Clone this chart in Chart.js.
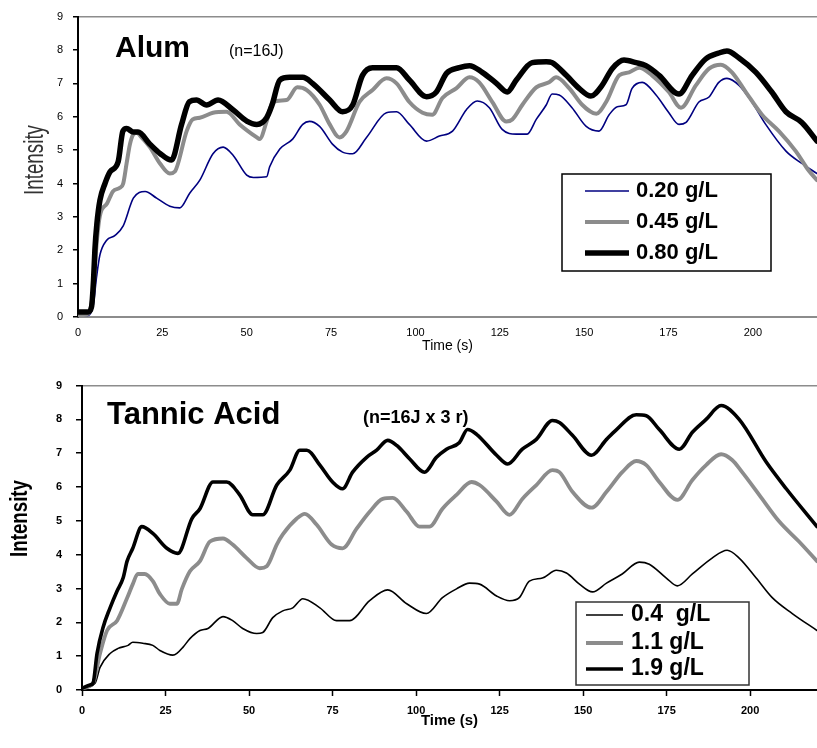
<!DOCTYPE html>
<html><head><meta charset="utf-8">
<script src="https://cdn.jsdelivr.net/npm/chart.js@4.4.1/dist/chart.umd.min.js"></script>
<style>
html,body{margin:0;padding:0;background:#fff;}
#wrap{position:relative;width:817px;height:748px;overflow:hidden;background:#fff;}
.panel{position:absolute;left:0;width:817px;}
</style></head><body>
<div id="wrap">
  <div class="panel" style="top:0;height:365px"><canvas id="c1" width="817" height="365"></canvas></div>
  <div class="panel" style="top:365px;height:383px"><canvas id="c2" width="817" height="383"></canvas></div>
</div>
<script>
// ---------- tick values ----------
const xTickValues = [0, 25, 50, 75, 100, 125, 150, 175, 200];
const yTickValues = [0, 1, 2, 3, 4, 5, 6, 7, 8, 9];

// ---------- Alum panel ----------
const alumLabels = ['0.20 g/L', '0.45 g/L', '0.80 g/L'];
const alumLowT = [0, 3, 4.5, 5.5, 6.5, 8.5, 10.9, 13.4, 16.4, 19.9, 23.3, 27.2, 30.2, 33.1, 36.1, 40, 43, 46, 50, 52, 55.9, 56.8, 59.8, 63.6, 66.6, 68.6, 71.6, 75.4, 78.4, 81.4, 85.5, 91.4, 94.4, 98.2, 103.3, 107.1, 111, 115.1, 118.3, 121.9, 125.7, 129.9, 133.1, 135.8, 138.8, 140.5, 142.6, 146.4, 150.6, 154.4, 157.4, 159.8, 162.4, 164.2, 167.2, 171.3, 175.1, 178.1, 180.2, 184, 187, 189.9, 192.3, 195.9, 199.7, 203.8, 209.8, 214.5, 219];
const alumLowV = [0.05, 0.05, 0.34, 1.2, 1.86, 2.3, 2.44, 2.73, 3.56, 3.76, 3.56, 3.32, 3.27, 3.71, 4.1, 4.89, 5.09, 4.84, 4.25, 4.18, 4.2, 4.5, 5.03, 5.33, 5.77, 5.86, 5.71, 5.18, 4.94, 4.89, 5.38, 6.12, 6.15, 5.77, 5.27, 5.42, 5.57, 6.21, 6.47, 6.27, 5.62, 5.48, 5.48, 5.92, 6.36, 6.68, 6.65, 6.27, 5.71, 5.57, 6.06, 6.3, 6.36, 6.85, 7.03, 6.65, 6.12, 5.77, 5.83, 6.44, 6.59, 7.03, 7.15, 6.94, 6.44, 5.77, 4.97, 4.6, 4.3];
const alumMidT = [0, 3, 4.5, 5.6, 6.5, 8.6, 10.4, 12.4, 13.4, 14.4, 15.4, 16.4, 17.5, 18.5, 21.3, 24.3, 27.2, 28.7, 32.2, 34, 36.1, 40, 44, 47.9, 53, 53.8, 55.9, 57.7, 61.8, 65, 67.8, 71.6, 74.6, 77.5, 79.6, 83.4, 87.3, 91.4, 94.4, 98.2, 102.1, 105, 108, 112.1, 116, 118.9, 122.8, 126.9, 128.7, 131.7, 135.8, 139.6, 141.7, 145.6, 149.4, 153.6, 156.5, 160.4, 163.3, 166.3, 170.1, 175.1, 178.7, 183.1, 187, 190.5, 193.8, 197.9, 202.7, 207.7, 212.7, 216.6, 219];
const alumMidV = [0.05, 0.1, 0.8, 2.3, 3.04, 3.4, 3.77, 3.87, 4.0, 4.6, 5.18, 5.47, 5.52, 5.42, 5.09, 4.6, 4.3, 4.36, 5.57, 5.92, 5.97, 6.12, 6.15, 5.77, 5.38, 5.33, 5.86, 6.44, 6.5, 6.88, 6.8, 6.36, 5.77, 5.38, 5.57, 6.44, 6.8, 7.15, 7.0, 6.44, 6.12, 6.06, 6.56, 6.85, 7.18, 7.03, 6.44, 5.86, 5.92, 6.36, 6.88, 7.03, 7.18, 6.85, 6.36, 6.09, 6.44, 7.24, 7.33, 7.47, 7.24, 6.74, 6.27, 6.94, 7.44, 7.56, 7.33, 6.74, 6.06, 5.57, 4.97, 4.38, 4.1];
const alumHighT = [0, 3, 4, 4.6, 5, 5.6, 6.5, 8, 9.5, 11.9, 13.3, 14.4, 16.4, 17.8, 21.3, 24.3, 27.7, 30.7, 33, 35.1, 38.1, 41.5, 46, 50, 53, 55.9, 57.5, 59.8, 62.7, 66.6, 69.5, 74.6, 78.4, 81.4, 84.3, 87.3, 94.4, 98.2, 103.3, 106.2, 109.2, 113, 116, 119.8, 124, 127.2, 129.9, 134.6, 138.8, 140.5, 144.7, 148.5, 152, 155.3, 158.3, 161.8, 165.4, 168.3, 172.2, 178.1, 182, 186, 189.9, 192.3, 195.9, 200.9, 205.6, 209.8, 214.5, 219];
const alumHighV = [0.15, 0.15, 0.3, 1.1, 2.0, 2.8, 3.5, 4.0, 4.35, 4.65, 5.57, 5.65, 5.54, 5.54, 5.18, 4.9, 4.7, 5.77, 6.45, 6.5, 6.35, 6.5, 6.2, 5.87, 5.77, 5.97, 6.35, 7.1, 7.18, 7.18, 7.0, 6.5, 6.15, 6.35, 7.24, 7.47, 7.47, 7.1, 6.6, 6.74, 7.3, 7.47, 7.53, 7.33, 7.0, 6.74, 7.1, 7.62, 7.65, 7.62, 7.24, 6.85, 6.62, 6.94, 7.44, 7.7, 7.62, 7.53, 7.24, 6.68, 7.24, 7.73, 7.91, 7.97, 7.76, 7.33, 6.74, 6.15, 5.83, 5.27];

// ---------- Tannic acid panel ----------
const tannicLabels = ['0.4  g/L', '1.1 g/L', '1.9 g/L'];
const tannicLowT = [0, 3.9, 5.4, 8.4, 10.8, 13.8, 15.2, 18.2, 21.2, 23.3, 27.2, 28.4, 30.2, 32.3, 35.3, 37.7, 42.2, 45.1, 48.1, 52.3, 54.1, 57.1, 60.1, 63.1, 66.1, 71.2, 76.2, 80.1, 86.1, 91.5, 97.2, 103.1, 107.9, 112.1, 116, 119, 124.1, 128, 130.9, 133.9, 137.8, 142, 145, 148.9, 152.8, 157, 161.7, 166.8, 169.8, 174.9, 178.2, 182.7, 188.6, 193.1, 196.7, 201.8, 206.6, 212.6, 220];
const tannicLowV = [0.05, 0.2, 0.67, 1.08, 1.23, 1.32, 1.41, 1.38, 1.32, 1.17, 1.03, 1.08, 1.26, 1.52, 1.76, 1.82, 2.17, 2.05, 1.82, 1.67, 1.7, 2.14, 2.34, 2.43, 2.7, 2.43, 2.05, 2.05, 2.64, 2.96, 2.55, 2.26, 2.73, 2.99, 3.16, 3.13, 2.78, 2.64, 2.73, 3.22, 3.31, 3.54, 3.46, 3.13, 2.9, 3.16, 3.43, 3.78, 3.72, 3.31, 3.08, 3.43, 3.9, 4.13, 3.9, 3.31, 2.73, 2.26, 1.76];
const tannicMidT = [0, 3.3, 5.4, 7.5, 10.5, 13.5, 15.2, 16.7, 18.8, 21.2, 23.3, 26.3, 28.4, 29.9, 32.3, 35.3, 38.3, 42.2, 45.1, 49.3, 53.2, 55.3, 58.3, 60.1, 64.3, 66.7, 70.2, 74.7, 78, 82.2, 86.1, 90, 93, 97.2, 101, 104, 107.9, 112.1, 116.6, 119, 124.1, 128, 131.8, 136, 140.8, 142.9, 146.8, 152.5, 157, 161.7, 165.9, 168.9, 172.8, 178.2, 182.7, 186.8, 191.3, 194.6, 197.6, 202.7, 208.7, 214.6, 220];
const tannicMidV = [0.05, 0.2, 1.08, 1.76, 2.05, 2.72, 3.13, 3.43, 3.43, 3.22, 2.84, 2.55, 2.55, 2.99, 3.51, 3.81, 4.39, 4.48, 4.3, 3.9, 3.6, 3.66, 4.3, 4.6, 5.07, 5.21, 4.89, 4.3, 4.19, 4.77, 5.27, 5.65, 5.68, 5.27, 4.83, 4.83, 5.36, 5.77, 6.15, 6.06, 5.57, 5.18, 5.65, 6.06, 6.5, 6.44, 5.86, 5.39, 5.86, 6.44, 6.77, 6.65, 6.15, 5.62, 6.21, 6.65, 6.97, 6.8, 6.44, 5.77, 4.98, 4.39, 3.81];
const tannicHighT = [0, 2.4, 3.3, 4.5, 6.3, 8.4, 10.5, 12.3, 13.5, 15.2, 17.9, 21.2, 25.4, 28.7, 32.9, 35.3, 39.2, 43.3, 47.2, 51.1, 54.1, 58.3, 62.2, 65.2, 67.3, 71.2, 75, 78, 81, 85.2, 88.2, 91.5, 94.2, 98.1, 102.5, 106.1, 109.1, 113, 115.4, 118.1, 124.1, 127.4, 131.8, 136, 140.8, 142.9, 146.8, 152.5, 157, 160, 165.9, 168.9, 172.8, 178.8, 182.7, 186.8, 191.3, 196.7, 204.8, 210.8, 220];
const tannicHighV = [0.05, 0.15, 0.2, 1.08, 1.85, 2.43, 2.93, 3.31, 3.81, 4.19, 4.83, 4.63, 4.19, 4.04, 5.07, 5.36, 6.15, 6.15, 5.77, 5.18, 5.18, 6.06, 6.5, 7.09, 7.09, 6.65, 6.15, 5.95, 6.44, 6.88, 7.09, 7.38, 7.23, 6.83, 6.44, 6.88, 7.12, 7.32, 7.7, 7.56, 6.94, 6.68, 7.12, 7.41, 7.97, 7.91, 7.53, 6.94, 7.41, 7.7, 8.14, 8.11, 7.7, 7.12, 7.62, 8.0, 8.41, 8.0, 6.74, 5.95, 4.83];

// ---------- helpers ----------
const FONT = "'Liberation Sans', Arial, sans-serif";
const GRAY = '#8c8c8c';
function pts(t, v) { return t.map((x, i) => ({ x: x, y: v[i] })); }

function decorPlugin(cfg) {
  return {
    id: 'decor',
    afterDatasetsDraw(chart) {
      const ctx = chart.ctx;
      ctx.save();
      // panel titles
      cfg.texts.forEach(t => {
        ctx.font = t.font; ctx.fillStyle = '#000';
        ctx.textAlign = 'left'; ctx.textBaseline = 'alphabetic';
        ctx.fillText(t.text, t.x, t.y);
      });
      // y-axis title (condensed, rotated)
      const yt = cfg.yTitle;
      ctx.save();
      ctx.font = yt.font; ctx.fillStyle = yt.color;
      ctx.textAlign = 'left'; ctx.textBaseline = 'alphabetic';
      const w = ctx.measureText(yt.text).width;
      ctx.translate(yt.x, yt.y); ctx.rotate(-Math.PI / 2); ctx.scale(yt.len / w, 1);
      ctx.fillText(yt.text, 0, 0);
      ctx.restore();
      // legend
      const lg = cfg.legend;
      ctx.fillStyle = '#fff'; ctx.fillRect(lg.x, lg.y, lg.w, lg.h);
      ctx.strokeStyle = lg.border; ctx.lineWidth = 1.5; ctx.strokeRect(lg.x, lg.y, lg.w, lg.h);
      chart.data.datasets.forEach((ds, i) => {
        const y = lg.rowY[i];
        ctx.strokeStyle = ds.borderColor; ctx.lineWidth = ds.borderWidth; ctx.lineCap = 'butt';
        ctx.beginPath(); ctx.moveTo(lg.x0, y); ctx.lineTo(lg.x1, y); ctx.stroke();
        ctx.fillStyle = '#000'; ctx.font = lg.font; ctx.textBaseline = 'middle'; ctx.textAlign = 'left';
        ctx.fillText(ds.label, lg.tx, y);
      });
      ctx.restore();
    }
  };
}

function makeChart(id, p) {
  return new Chart(document.getElementById(id), {
    type: 'line',
    data: { datasets: p.datasets },
    options: {
      responsive: false, animation: false, events: [],
      layout: { padding: { top: p.padTop, left: 0, right: 0, bottom: 0 } },
      elements: { point: { radius: 0 }, line: { cubicInterpolationMode: 'monotone', borderCapStyle: 'round', borderJoinStyle: 'round' } },
      plugins: { legend: { display: false }, tooltip: { enabled: false } },
      scales: {
        x: {
          type: 'linear', min: 0, max: p.xMax,
          afterBuildTicks: s => { s.ticks = xTickValues.map(v => ({ value: v })); },
          afterFit: s => { s.height = p.xHeight; },
          ticks: { font: { family: FONT, size: 11, weight: p.tickWeight }, color: '#000', padding: p.xTickPad, maxRotation: 0, autoSkip: false },
          grid: { drawOnChartArea: false, drawTicks: p.xDrawTicks, tickLength: 6, tickWidth: 1.5, tickColor: '#000', color: 'rgba(0,0,0,0)' },
          border: { color: p.xBorder, width: 2 },
          title: { display: true, text: 'Time (s)', color: '#000', font: { family: FONT, size: p.xTitleSize, weight: p.tickWeight }, padding: { top: 0, bottom: p.xTitlePad } }
        },
        y: {
          min: 0, max: 9,
          afterBuildTicks: s => { s.ticks = yTickValues.map(v => ({ value: v })); },
          afterFit: s => { s.width = p.yWidth; },
          ticks: { font: { family: FONT, size: 11, weight: p.tickWeight }, color: '#000', padding: p.yTickPad },
          grid: {
            drawOnChartArea: true, drawTicks: true, tickLength: p.yTickLen, tickWidth: 1.5, tickColor: '#000',
            color: c => (c.tick && c.tick.value === 9) ? GRAY : 'rgba(0,0,0,0)', lineWidth: 1.5
          },
          border: { color: '#000', width: 2 }
        }
      }
    },
    plugins: [decorPlugin(p.decor)]
  });
}

makeChart('c1', {
  padTop: 10, xMax: 219, xHeight: 48, yWidth: 78, tickWeight: 'normal', xTickPad: 9, xDrawTicks: false,
  xBorder: GRAY, xTitleSize: 14, xTitlePad: 10, yTickPad: 10, yTickLen: 5,
  datasets: [
    { label: alumLabels[0], data: pts(alumLowT, alumLowV), borderColor: '#000080', borderWidth: 1.6, order: 3 },
    { label: alumLabels[1], data: pts(alumMidT, alumMidV), borderColor: GRAY, borderWidth: 4, order: 2 },
    { label: alumLabels[2], data: pts(alumHighT, alumHighV), borderColor: '#000', borderWidth: 5.5, order: 1 }
  ],
  decor: {
    texts: [
      { text: 'Alum', x: 115, y: 57, font: 'bold 30px ' + FONT },
      { text: '(n=16J)', x: 229, y: 56, font: '16px ' + FONT }
    ],
    yTitle: { text: 'Intensity', x: 43, y: 195, len: 70, font: '27px ' + FONT, color: '#333' },
    legend: { x: 562, y: 174, w: 209, h: 97, border: '#000', rowY: [191, 222, 253], x0: 585, x1: 629, tx: 636, font: 'bold 22px ' + FONT }
  }
});

makeChart('c2', {
  padTop: 18, xMax: 220, xHeight: 58, yWidth: 82, tickWeight: 'bold', xTickPad: 8, xDrawTicks: true,
  xBorder: '#000', xTitleSize: 15, xTitlePad: 18, yTickPad: 14, yTickLen: 6,
  datasets: [
    { label: tannicLabels[0], data: pts(tannicLowT, tannicLowV), borderColor: '#000', borderWidth: 1.6, order: 3 },
    { label: tannicLabels[1], data: pts(tannicMidT, tannicMidV), borderColor: GRAY, borderWidth: 3.8, order: 2 },
    { label: tannicLabels[2], data: pts(tannicHighT, tannicHighV), borderColor: '#000', borderWidth: 3.6, order: 1 }
  ],
  decor: {
    texts: [
      { text: 'Tannic Acid', x: 107, y: 59, font: 'bold 31px ' + FONT },
      { text: '(n=16J x 3 r)', x: 363, y: 58, font: 'bold 18px ' + FONT }
    ],
    yTitle: { text: 'Intensity', x: 27, y: 192, len: 77, font: 'bold 23px ' + FONT, color: '#000' },
    legend: { x: 576, y: 237, w: 173, h: 83, border: '#333', rowY: [250, 278, 304], x0: 586, x1: 623, tx: 631, font: 'bold 23px ' + FONT }
  }
});
</script>
</body></html>
